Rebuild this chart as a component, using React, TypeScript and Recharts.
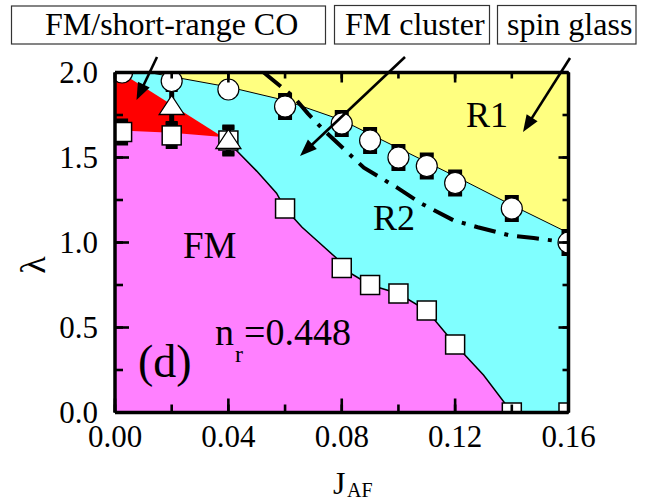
import React from 'react';
import { ComposedChart, XAxis, YAxis, Area, Line, Scatter, ErrorBar } from 'recharts';

const FONT = '"Liberation Serif", "Times New Roman", Times, serif';

// axis ticks
const xTicks = [0, 0.02, 0.04, 0.06, 0.08, 0.1, 0.12, 0.14, 0.16];
const yTicks = [0, 0.25, 0.5, 0.75, 1, 1.25, 1.5, 1.75, 2];

// region boundaries (J_AF, lambda)
const topJ = [0, 0.16];
const topL = [2.0, 2.0];
// spin glass (R1) lower boundary
const r1J = [0, 0.012, 0.04, 0.06, 0.08, 0.1, 0.12, 0.14, 0.16];
const r1L = [2.0, 2.0, 1.915, 1.836, 1.72, 1.555, 1.39, 1.22, 1.056];
// FM/short-range CO upper boundary
const coJ = [0, 0.004, 0.038];
const coL = [2.0, 1.98, 1.62];
// FM upper boundary below the CO region
const fmTopJ = [0, 0.02, 0.038];
const fmTopL = [1.66, 1.645, 1.62];
// FM / FM-cluster boundary
const fmJ = [0.038, 0.042, 0.05, 0.057, 0.06, 0.066, 0.072, 0.078, 0.08, 0.09, 0.1, 0.11, 0.12, 0.13, 0.14];
const fmL = [1.62, 1.556, 1.42, 1.29, 1.2, 1.09, 1.0, 0.91, 0.85, 0.75, 0.7, 0.6, 0.4, 0.22, 0.0];
// dash-dot line (R1/R2)
const dashJ = [0.0525, 0.0543, 0.063, 0.068, 0.0737, 0.0878, 0.0998, 0.108, 0.1195, 0.128, 0.1396, 0.1477, 0.16];
const dashL = [2.0, 1.975, 1.857, 1.76, 1.66, 1.44, 1.32, 1.23, 1.13, 1.09, 1.04, 1.026, 1.0];

// symbols
const circleJ = [0.0025, 0.02, 0.04, 0.06, 0.08, 0.09, 0.1, 0.11, 0.12, 0.14, 0.16];
const circleL = [2.0, 1.95, 1.9, 1.8, 1.7, 1.6, 1.5, 1.45, 1.35, 1.2, 1.0];
const circleErr = [0, 0, 0, 0.065, 0.065, 0.065, 0.065, 0.065, 0.065, 0.065, 0.065];
const squareJ = [0.0025, 0.02, 0.04, 0.06, 0.08, 0.09, 0.1, 0.11, 0.12, 0.14, 0.16];
const squareL = [1.65, 1.63, 1.6, 1.2, 0.85, 0.75, 0.7, 0.6, 0.4, 0.0, 0.0];
const squareErr = [0.065, 0.065, 0.08, 0, 0, 0, 0, 0, 0, 0, 0];
const triJ = [0.02, 0.04];
const triL = [1.8, 1.6];
const triErr = [0.1, 0.075];

const pts = (xs: number[], ys: number[]) => xs.map((x, i) => ({ x, y: ys[i] }));
const ptsErr = (xs: number[], ys: number[], es: number[]) => xs.map((x, i) => ({ x, y: ys[i], err: es[i] }));

const yellowData = pts(topJ, topL);
const cyanData = pts(r1J, r1L);
const redData = pts(coJ, coL);
const fmBoundary = pts(fmJ, fmL);
const magentaData = [...pts(fmTopJ, fmTopL), ...fmBoundary.slice(1)];
const dashData = pts(dashJ, dashL);
const circleData = ptsErr(circleJ, circleL, circleErr);
const squareData = ptsErr(squareJ, squareL, squareErr);
const triData = ptsErr(triJ, triL, triErr);

const isMajorX = (v: number) => Math.round(v * 100) % 4 === 0;
const isMajorY = (v: number) => Math.round(v * 100) % 50 === 0;

// inward tick lengths (px)
const MINOR = 8;
const MAJOR = 14;
const MINOR_M = 6; // mirrored (top/right)
const MAJOR_M = 10;
const TW = 2.6;

const BottomTick = (p: any) => {
  const v = p.payload.value;
  const major = isMajorX(v);
  return (
    <g>
      {major && <line x1={p.x} y1={p.y} x2={p.x} y2={p.y - MAJOR} stroke="#000" strokeWidth={TW} />}
      {major && (
        <text x={p.x} y={p.y + 34.5} textAnchor="middle" fontSize={31} fontFamily={FONT} fill="#000">
          {v.toFixed(2)}
        </text>
      )}
    </g>
  );
};
const TopTick = (p: any) => {
  const major = isMajorX(p.payload.value);
  return <g>{major && <line x1={p.x} y1={p.y} x2={p.x} y2={p.y + MAJOR_M} stroke="#000" strokeWidth={TW} />}</g>;
};
const LeftTick = (p: any) => {
  const v = p.payload.value;
  const major = isMajorY(v);
  return (
    <g>
      {major && <line x1={p.x} y1={p.y} x2={p.x + MAJOR} y2={p.y} stroke="#000" strokeWidth={TW} />}
      {major && (
        <text x={p.x - 17} y={p.y + 10.5} textAnchor="end" fontSize={31} fontFamily={FONT} fill="#000">
          {v.toFixed(1)}
        </text>
      )}
    </g>
  );
};
const RightTick = (p: any) => {
  const major = isMajorY(p.payload.value);
  return <g>{major && <line x1={p.x} y1={p.y} x2={p.x - MAJOR_M} y2={p.y} stroke="#000" strokeWidth={TW} />}</g>;
};

const NoShape = () => <g />;
const CircleShape = (p: any) => <circle cx={p.cx} cy={p.cy} r={10.5} fill="#fff" stroke="#000" strokeWidth={1.2} />;
const SquareShape = (p: any) => (
  <rect x={p.cx - 9.5} y={p.cy - 9.5} width={19} height={19} fill="#fff" stroke="#000" strokeWidth={1.5} />
);
const TriangleShape = (p: any) => (
  <polygon
    points={`${p.cx},${p.cy - 11} ${p.cx + 12.5},${p.cy + 8} ${p.cx - 12.5},${p.cy + 8}`}
    fill="#fff"
    stroke="#000"
    strokeWidth={1.3}
  />
);

const Arrow = ({ x1, y1, x2, y2 }: { x1: number; y1: number; x2: number; y2: number }) => {
  const dx = x2 - x1, dy = y2 - y1;
  const L = Math.hypot(dx, dy);
  const ux = dx / L, uy = dy / L;
  const hl = 17, hw = 6.5;
  const bx = x2 - ux * hl, by = y2 - uy * hl;
  return (
    <g>
      <line x1={x1} y1={y1} x2={bx + ux * 2} y2={by + uy * 2} stroke="#000" strokeWidth={2.6} />
      <polygon points={`${x2},${y2} ${bx - uy * hw},${by + ux * hw} ${bx + uy * hw},${by - ux * hw}`} fill="#000" />
    </g>
  );
};

const axisLine = { stroke: '#000', strokeWidth: 3.5 };
const tickLine = { stroke: '#000', strokeWidth: TW };
const W = 653;
const H = 501;
const PLOT = { left: 115, right: 84.5, top: 72.5, bottom: 88.5 };

export default function App() {
  return (
    <div style={{ position: 'absolute', left: 0, top: 0, width: W, height: H, background: '#fff' }}>
      {/* data layer, clipped to the plot frame */}
      <div
        style={{
          position: 'absolute', left: 0, top: 0, width: W, height: H, zIndex: 0,
          clipPath: `inset(${PLOT.top}px ${PLOT.right}px ${PLOT.bottom}px ${PLOT.left}px)`,
        }}
      >
        <ComposedChart width={W} height={H} margin={PLOT}>
          <XAxis type="number" dataKey="x" domain={[0, 0.16]} allowDataOverflow hide />
          <YAxis type="number" dataKey="y" domain={[0, 2]} allowDataOverflow hide />
          <Area data={yellowData} dataKey="y" type="linear" fill="#FFFF80" fillOpacity={1} stroke="none" isAnimationActive={false} />
          <Area data={cyanData} dataKey="y" type="linear" fill="#80FFFF" fillOpacity={1} stroke="#000" strokeWidth={1} isAnimationActive={false} />
          <Area data={redData} dataKey="y" type="linear" fill="#FF0000" fillOpacity={1} stroke="none" isAnimationActive={false} />
          <Area data={magentaData} dataKey="y" type="linear" fill="#FF80FF" fillOpacity={1} stroke="none" isAnimationActive={false} />
          <Line data={fmBoundary} dataKey="y" type="linear" stroke="#000" strokeWidth={1.5} dot={false} isAnimationActive={false} />
          <Line data={dashData} dataKey="y" type="linear" stroke="#000" strokeWidth={4} strokeDasharray="22 9 4 9" dot={false} isAnimationActive={false} />
          {/* error bars first, so the symbols sit on top */}
          <Scatter data={squareData} dataKey="y" shape={NoShape} isAnimationActive={false}>
            <ErrorBar dataKey="err" direction="y" width={6} strokeWidth={5} stroke="#000" />
          </Scatter>
          <Scatter data={triData} dataKey="y" shape={NoShape} isAnimationActive={false}>
            <ErrorBar dataKey="err" direction="y" width={6} strokeWidth={5} stroke="#000" />
          </Scatter>
          <Scatter data={circleData} dataKey="y" shape={NoShape} isAnimationActive={false}>
            <ErrorBar dataKey="err" direction="y" width={7} strokeWidth={5} stroke="#000" />
          </Scatter>
          <Scatter data={squareData} dataKey="y" shape={SquareShape} isAnimationActive={false} />
          <Scatter data={triData} dataKey="y" shape={TriangleShape} isAnimationActive={false} />
          <Scatter data={circleData} dataKey="y" shape={CircleShape} isAnimationActive={false} />
        </ComposedChart>
      </div>
      {/* axes frame on top */}
      <div style={{ position: 'absolute', left: 0, top: 0, width: W, height: H, zIndex: 1 }}>
        <ComposedChart width={W} height={H} margin={{ top: 71.5, right: 83.5, bottom: 87.5, left: 114 }}>
          <XAxis type="number" dataKey="x" domain={[0, 0.16]} ticks={xTicks} interval={0} allowDataOverflow height={1}
            tick={BottomTick} tickLine={tickLine} tickSize={-MINOR} tickMargin={MINOR} axisLine={axisLine} />
          <YAxis type="number" dataKey="y" domain={[0, 2]} ticks={yTicks} interval={0} allowDataOverflow width={1}
            tick={LeftTick} tickLine={tickLine} tickSize={-MINOR} tickMargin={MINOR} axisLine={axisLine} />
          <XAxis xAxisId="top" orientation="top" type="number" dataKey="x" domain={[0, 0.16]} ticks={xTicks} interval={0} allowDataOverflow height={1}
            tick={TopTick} tickLine={tickLine} tickSize={-MINOR_M} tickMargin={MINOR_M} axisLine={axisLine} />
          <YAxis yAxisId="right" orientation="right" type="number" dataKey="y" domain={[0, 2]} ticks={yTicks} interval={0} allowDataOverflow width={1}
            tick={RightTick} tickLine={tickLine} tickSize={-MINOR_M} tickMargin={MINOR_M} axisLine={axisLine} />
        </ComposedChart>
      </div>
      <svg width={W} height={H} style={{ position: 'absolute', left: 0, top: 0, zIndex: 2, pointerEvents: 'none' }} fontFamily={FONT}>
        {/* legend boxes */}
        <rect x={11.5} y={6} width={314} height={38} fill="#fff" stroke="#333" strokeWidth={1.2} />
        <text x={45} y={35} fontSize={32}>FM/short-range CO</text>
        <rect x={334.5} y={5.5} width={155} height={38.5} fill="#fff" stroke="#333" strokeWidth={1.2} />
        <text x={345} y={35} fontSize={32}>FM cluster</text>
        <rect x={497.5} y={5.5} width={138.5} height={38.5} fill="#fff" stroke="#333" strokeWidth={1.2} />
        <text x={507} y={35} fontSize={32}>spin glass</text>
        <Arrow x1={157} y1={57} x2={136.5} y2={100} />
        <Arrow x1={405} y1={57} x2={300} y2={156} />
        <Arrow x1={570} y1={58} x2={523} y2={132} />
        {/* region labels */}
        <text x={466} y={127} fontSize={36}>R1</text>
        <text x={373} y={230} fontSize={36}>R2</text>
        <text x={183} y={258} fontSize={37}>FM</text>
        <text x={215} y={345} fontSize={38}>n</text>
        <text x={235} y={362} fontSize={24}>r</text>
        <text x={244} y={345} fontSize={38}>=0.448</text>
        <text x={138} y={377} fontSize={46}>(d)</text>
        {/* axis titles */}
        <text x={45} y={265} fontSize={36} textAnchor="middle" transform="rotate(-90 45 265)">λ</text>
        <text x={333} y={494} fontSize={32}>J</text>
        <text x={347} y={497} fontSize={20}>AF</text>
      </svg>
    </div>
  );
}
